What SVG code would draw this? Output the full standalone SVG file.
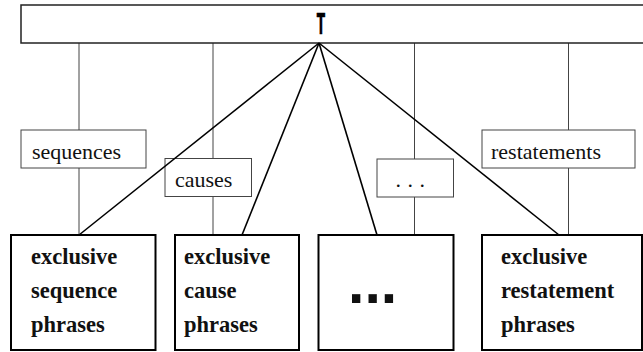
<svg xmlns="http://www.w3.org/2000/svg" width="643" height="352" viewBox="0 0 643 352">
<style>
.top{fill:#fff;stroke:#222;stroke-width:1.5}
.lbl{fill:#fff;stroke:#444;stroke-width:1}
.box{fill:#fff;stroke:#000;stroke-width:2}
.vl{stroke:#444;stroke-width:1;fill:none}
.fan{stroke:#000;stroke-width:1.6;fill:none}
</style>
<rect width="643" height="352" fill="#fff"/>
<g id="connectors">
<line class="vl" x1="79" y1="43" x2="79" y2="235"/>
<line class="vl" x1="213" y1="43" x2="213" y2="235"/>
<line class="vl" x1="414.5" y1="43" x2="414.5" y2="235"/>
<line class="vl" x1="568.5" y1="43" x2="568.5" y2="235"/>
</g>
<g id="T">
<rect class="top" x="21" y="5" width="640" height="38"/>
<text x="0" y="0" transform="translate(321,34) scale(0.42,1)" text-anchor="middle" font-family="DejaVu Sans, Liberation Sans, sans-serif" font-weight="bold" font-size="29" fill="#000" stroke="#000" stroke-width="0.6">T</text>
</g>
<g font-family="Liberation Serif, Times New Roman, DejaVu Serif, serif" font-size="22" fill="#111">
<g id="label-sequences">
<rect class="lbl" x="21" y="130" width="125" height="38"/>
<text x="32" y="159">sequences</text>
</g>
<g id="label-causes">
<rect class="lbl" x="165" y="158.5" width="86.5" height="38"/>
<text x="175" y="187">causes</text>
</g>
<g id="label-dots">
<rect class="lbl" x="377" y="159" width="76.5" height="38"/>
<text x="395.5" y="187" letter-spacing="6.5">...</text>
</g>
<g id="label-restatements">
<rect class="lbl" x="482" y="130" width="153" height="38"/>
<text x="491" y="159">restatements</text>
</g>
</g>
<g id="fan">
<line class="fan" x1="319" y1="43" x2="79" y2="235"/>
<line class="fan" x1="319" y1="43" x2="242" y2="235"/>
<line class="fan" x1="319" y1="43" x2="377" y2="235"/>
<line class="fan" x1="319" y1="43" x2="559" y2="235"/>
</g>
<g font-family="Liberation Serif, Times New Roman, DejaVu Serif, serif" font-size="22.5" font-weight="bold" fill="#111">
<g id="node-sequence">
<rect class="box" x="11" y="235" width="144.5" height="115"/>
<text x="31" y="264">exclusive</text>
<text x="31" y="298">sequence</text>
<text x="31" y="332">phrases</text>
</g>
<g id="node-cause">
<rect class="box" x="175" y="235" width="124" height="115"/>
<text x="184" y="264">exclusive</text>
<text x="184" y="298">cause</text>
<text x="184" y="332">phrases</text>
</g>
<g id="node-dots">
<rect class="box" x="318.5" y="235" width="135" height="115"/>
<text x="348" y="303" font-family="Liberation Sans, Arial, sans-serif" font-size="59">...</text>
</g>
<g id="node-restatement">
<rect class="box" x="482" y="235" width="160" height="115"/>
<text x="501" y="264">exclusive</text>
<text x="501" y="298">restatement</text>
<text x="501" y="332">phrases</text>
</g>
</g>
</svg>
